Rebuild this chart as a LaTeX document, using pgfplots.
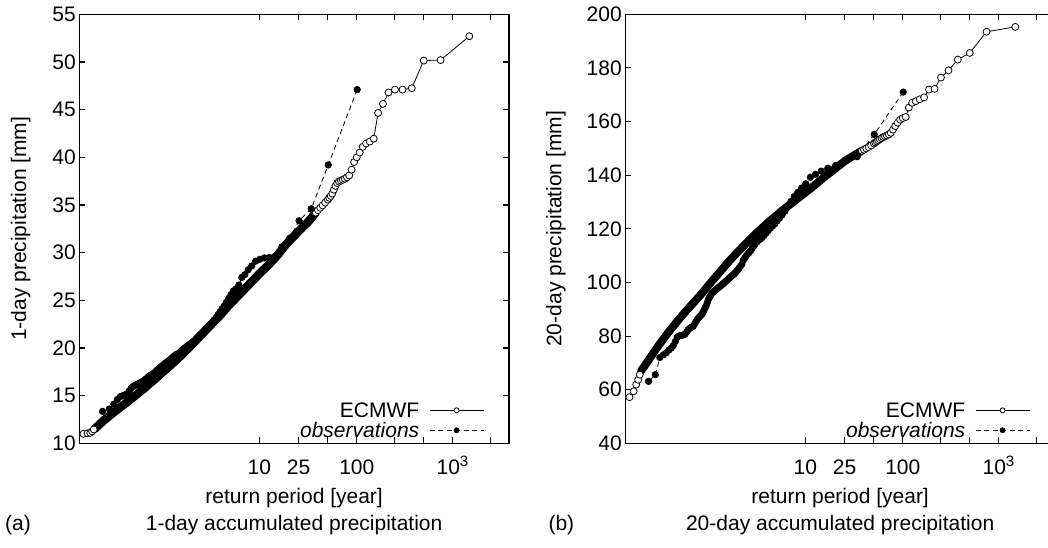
\documentclass[border=0pt]{standalone}
\usepackage{fontspec}
\setmainfont{Liberation Sans}
\usepackage{pgfplots}
\pgfplotsset{compat=1.18}
\usepackage{pgfplotstable}

% x = Gumbel reduced variate -ln(-ln(1-1/T))
\pgfplotstableread{
x y
-1.9898 11.0
-1.8902 11.05
-1.8270 11.1
-1.7796 11.25
-1.7413 11.45
}\ecmAlow
\pgfplotstableread{
x y
-1.71 11.55
-1.6 12.0
-1.5 12.4
-1.4 12.75
-1.3 13.1
-1.2 13.45
-1.1 13.8
-1.0 14.1
-0.9 14.45
-0.8 14.8
-0.7 15.15
-0.6 15.5
-0.5 15.85
-0.4 16.25
-0.3 16.6
-0.2 17.0
-0.1 17.4
0.0 17.75
0.1 18.15
0.2 18.55
0.3 18.95
0.4 19.35
0.5 19.8
0.6 20.25
0.7 20.7
0.8 21.15
0.9 21.6
1.0 22.05
1.1 22.5
1.2 22.95
1.3 23.4
1.4 23.9
1.5 24.4
1.6 24.85
1.7 25.3
1.8 25.75
1.9 26.2
2.0 26.65
2.1 27.1
2.2 27.55
2.3 28.0
2.4 28.4
2.5 28.85
2.6 29.3
2.7 29.8
2.8 30.35
2.9 30.9
3.0 31.35
3.1 31.8
3.2 32.25
3.3 32.7
3.4 33.1
3.5 33.6
3.6 34.15
}\ecmAmid
\pgfplotstableread{
x y
3.6115 34.2
3.6635 34.45
3.7183 34.7
3.7761 34.95
3.8374 35.25
3.9026 35.55
3.9369 35.75
3.9722 35.95
4.0090 36.2
4.0470 36.6
4.0866 37.0
4.1278 37.3
4.1707 37.45
4.2155 37.55
4.2624 37.65
4.3114 37.75
4.3632 37.9
4.4176 38.1
4.4751 38.7
4.5359 39.5
4.6008 40.0
4.6701 40.5
4.7446 41.1
4.8249 41.45
4.9123 41.65
5.0078 41.95
5.1135 44.65
5.2316 45.6
5.3655 46.8
5.5201 47.1
5.7027 47.1
5.9262 47.25
6.2142 50.15
6.6200 50.2
7.3135 52.7
}\ecmAtop
\pgfplotstableread{
x y
4.6101 47.1
3.9120 39.2
3.5014 34.6
3.2087 33.35
2.9804 31.5
2.7929 30.6
2.6335 29.6
2.4947 29.5
2.3716 29.45
2.2609 29.3
2.1601 29.1
2.0676 28.6
1.9820 28.2
1.9024 27.7
1.8278 27.4
1.7576 26.6
1.6912 26.2
1.6283 26.0
1.5684 25.6
1.5111 25.2
1.4564 24.8
1.4038 24.4
1.3533 24.1
1.3045 23.8
1.2575 23.5
1.2120 23.2
1.1679 22.95
1.1251 22.7
1.0835 22.5
1.0430 22.3
1.0035 22.1
0.9650 21.95
0.9274 21.8
0.8906 21.65
0.8547 21.5
0.8194 21.35
0.7849 21.2
0.7509 21.05
0.7176 20.9
0.6848 20.75
0.6525 20.65
0.6208 20.55
0.5895 20.45
0.5586 20.35
0.5281 20.25
0.4980 20.15
0.4683 20.05
0.4389 19.95
0.4097 19.85
0.3809 19.75
0.3523 19.6
0.3240 19.5
0.2959 19.4
0.2680 19.35
0.2402 19.3
0.2127 19.2
0.1853 19.1
0.1580 19.0
0.1308 18.9
0.1037 18.8
0.0767 18.7
0.0496 18.6
0.0227 18.5
-0.0042 18.45
-0.0311 18.35
-0.0581 18.25
-0.0851 18.15
-0.1121 18.05
-0.1393 17.95
-0.1665 17.85
-0.1939 17.75
-0.2214 17.65
-0.2492 17.5
-0.2771 17.4
-0.3053 17.3
-0.3338 17.2
-0.3626 17.15
-0.3918 17.1
-0.4214 17.0
-0.4514 16.85
-0.4820 16.75
-0.5132 16.65
-0.5450 16.55
-0.5776 16.45
-0.6115 16.35
-0.6457 16.3
-0.6812 16.2
-0.7179 16.15
-0.7562 16.05
-0.7962 15.95
-0.8383 15.8
-0.8829 15.5
-0.9304 15.2
-0.9818 15.1
-1.0379 15.0
-1.1005 14.9
-1.1721 14.6
-1.2575 14.1
-1.3665 13.6
-1.5293 13.35
}\obsA

\pgfplotstableread{
x y
-1.9898 57.2
-1.8902 59.4
-1.8270 61.9
-1.7796 63.7
-1.7413 65.6
}\ecmBlow
\pgfplotstableread{
x y
-1.71 67.0
-1.6 69.4
-1.5 71.7
-1.4 74.0
-1.3 76.2
-1.2 78.3
-1.1 80.4
-1.0 82.4
-0.9 84.3
-0.8 86.2
-0.7 88.0
-0.6 89.8
-0.5 91.5
-0.4 93.2
-0.3 94.9
-0.2 96.7
-0.1 98.6
0.0 100.5
0.1 102.3
0.2 104.1
0.3 105.9
0.4 107.7
0.5 109.4
0.6 111.0
0.7 112.6
0.8 114.2
0.9 115.8
1.0 117.3
1.1 118.8
1.2 120.2
1.3 121.6
1.4 123.0
1.5 124.3
1.6 125.6
1.7 126.9
1.8 128.1
1.9 129.3
2.0 130.5
2.1 131.7
2.2 132.9
2.3 134.1
2.4 135.3
2.5 136.6
2.6 137.9
2.7 139.2
2.8 140.4
2.9 141.6
3.0 142.8
3.1 144.0
3.2 145.2
3.3 146.2
3.4 147.2
3.5 148.1
3.6 149.0
}\ecmBmid
\pgfplotstableread{
x y
3.6115 149.1
3.6635 149.5
3.7183 150.0
3.7761 150.5
3.8374 151.1
3.9026 151.8
3.9369 152.2
3.9722 152.6
4.0090 153.0
4.0470 153.4
4.0866 153.8
4.1278 154.2
4.1707 154.5
4.2155 154.8
4.2624 155.2
4.3114 155.8
4.3632 157.0
4.4176 158.3
4.4751 159.6
4.5359 160.7
4.6008 161.3
4.6701 161.7
4.7446 165.2
4.8249 167.0
4.9123 167.6
5.0078 168.3
5.1135 169.0
5.2316 171.9
5.3655 172.2
5.5201 176.4
5.7027 179.1
5.9262 183.1
6.2142 185.6
6.6200 193.5
7.3135 195.3
}\ecmBtop
\pgfplotstableread{
x y
4.6101 171.0
3.9120 155.2
3.5014 146.9
3.2087 145.6
2.9804 143.6
2.7929 142.6
2.6335 141.5
2.4947 140.3
2.3716 139.2
2.2609 136.8
2.1601 135.2
2.0676 133.6
1.9820 132.0
1.9024 130.2
1.8278 128.3
1.7576 126.6
1.6912 125.2
1.6283 124.0
1.5684 122.9
1.5111 121.8
1.4564 121.0
1.4038 120.2
1.3533 119.3
1.3045 118.4
1.2575 117.6
1.2120 116.8
1.1679 116.2
1.1251 115.7
1.0835 115.1
1.0430 114.4
1.0035 113.5
0.9650 112.6
0.9274 111.8
0.8906 111.1
0.8547 110.5
0.8194 109.8
0.7849 109.0
0.7509 108.1
0.7176 106.7
0.6848 106.0
0.6525 105.3
0.6208 104.7
0.5895 104.1
0.5586 103.6
0.5281 103.1
0.4980 102.7
0.4683 102.3
0.4389 101.9
0.4097 101.5
0.3809 101.1
0.3523 100.7
0.3240 100.3
0.2959 99.9
0.2680 99.5
0.2402 99.2
0.2127 98.8
0.1853 98.5
0.1580 98.1
0.1308 97.8
0.1037 97.4
0.0767 97.0
0.0496 96.7
0.0227 96.3
-0.0042 95.9
-0.0311 95.2
-0.0581 94.6
-0.0851 93.7
-0.1121 92.5
-0.1393 91.3
-0.1665 90.5
-0.1939 89.6
-0.2214 88.8
-0.2492 88.0
-0.2771 87.6
-0.3053 87.1
-0.3338 86.6
-0.3626 86.0
-0.3918 85.3
-0.4214 84.5
-0.4514 83.7
-0.4820 83.4
-0.5132 83.1
-0.5450 82.8
-0.5776 82.3
-0.6115 81.5
-0.6457 80.8
-0.6812 80.5
-0.7179 80.3
-0.7562 80.2
-0.7962 80.0
-0.8383 79.6
-0.8829 78.0
-0.9304 76.5
-0.9818 75.5
-1.0379 74.8
-1.1005 73.8
-1.1721 73.0
-1.2575 72.0
-1.3665 65.6
-1.5293 63.1
}\obsB

\pgfplotsset{
  panel/.style={
    scale only axis, width=429.7pt, height=429pt, anchor=south west,
    xmin=-2.09, xmax=8.27,
    xtick={2.2504,3.1985,3.9019,4.6001,5.5195,6.2136,6.9073,7.8239},
    xticklabels={10,25,,100,,,{10\raisebox{0.72ex}{\fontsize{15}{15}\selectfont 3}},},
    tick align=inside, tick pos=both, major tick length=6pt,
    every tick/.style={black, line width=1.1pt},
    axis line style={line width=1.2pt},
    /pgf/number format/assume math mode=true,
    x tick label style={anchor=base, yshift=-31pt},
    xlabel={return period [year]},
    xlabel style={at={(axis description cs:0.5,0)}, anchor=base, yshift=-60pt},
    legend style={draw=none, fill=none, at={(axis description cs:1,0)}, anchor=south east,
      xshift=-25pt, yshift=3pt, inner sep=0pt, outer sep=0pt, row sep=0pt, column sep=8pt,
      nodes={inner sep=2pt, text height=15pt, text depth=1pt}},
    legend plot pos=right, legend cell align=right,
    legend image code/.code={\draw[mark repeat=2,mark phase=2,#1,mark size=2.5pt] plot coordinates {(0pt,0pt) (27pt,0pt) (54pt,0pt)};},
  },
  ecmband/.style={black, line width=8.5pt, line cap=round, line join=round, no markers, forget plot},
  ecm/.style={black, line width=0.8pt, mark=*, mark size=3.5pt, mark options={fill=white, solid, line width=0.8pt}},
  obs/.style={black, line width=0.8pt, dash pattern=on 5pt off 3.5pt, mark=*, mark size=3.2pt, mark options={fill=black, solid}},
}

\begin{document}
\begin{tikzpicture}[font=\fontsize{21}{25}\selectfont, x=1pt, y=1pt]
\begin{axis}[panel, at={(79.3pt,103.7pt)},
  ymin=10, ymax=55, ytick={10,15,...,55},
  ylabel={1-day precipitation [mm]},
  ylabel style={at={(axis description cs:-0.1361,0.5)}, anchor=center}]
  \addplot[ecmband] table {\ecmAmid};
  \addplot[ecm, forget plot] table {\ecmAlow};
  \addplot[ecm] table {\ecmAtop};
  \addlegendentry{ECMWF}
  \addplot[obs] table {\obsA};
  \addlegendentry{\textit{observations}}
\end{axis}
\begin{axis}[panel, at={(625.3pt,103.7pt)},
  ymin=40, ymax=200, ytick={40,60,...,200},
  ylabel={20-day precipitation [mm]},
  ylabel style={at={(axis description cs:-0.1617,0.5)}, anchor=center}]
  \addplot[ecmband, line width=8pt] table {\ecmBmid};
  \addplot[ecm, forget plot] table {\ecmBlow};
  \addplot[ecm] table {\ecmBtop};
  \addlegendentry{ECMWF}
  \addplot[obs] table {\obsB};
  \addlegendentry{\textit{observations}}
\end{axis}
\node[anchor=base] at (294.15,17) {1-day accumulated precipitation};
\node[anchor=base west, inner sep=0pt] at (5,17) {(a)};
\node[anchor=base] at (840.15,17) {20-day accumulated precipitation};
\node[anchor=base west, inner sep=0pt] at (548.3,17) {(b)};
\pgfresetboundingbox
\path[use as bounding box] (0,0) rectangle (1048,547);
\end{tikzpicture}
\end{document}
